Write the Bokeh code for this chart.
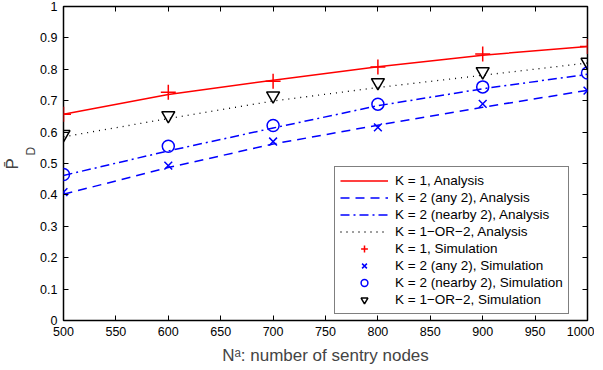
from bokeh.plotting import figure
from bokeh.models import Range1d, FixedTicker, LinearAxis, Title
from bokeh.embed import file_html
from bokeh.resources import INLINE

# ---- data ----
x_nodes = [500, 600, 700, 800, 900, 1000]
k1_analysis = [0.657, 0.720, 0.765, 0.808, 0.845, 0.873]
any2_analysis = [0.402, 0.487, 0.562, 0.622, 0.679, 0.733]
nearby2_analysis = [0.462, 0.540, 0.613, 0.684, 0.738, 0.784]
or12_analysis = [0.585, 0.643, 0.699, 0.742, 0.781, 0.820]
k1_sim = [0.657, 0.727, 0.762, 0.807, 0.849, 0.873]
any2_sim = [0.409, 0.493, 0.570, 0.615, 0.690, 0.732]
nearby2_sim = [0.465, 0.555, 0.621, 0.689, 0.744, 0.788]
or12_sim = [0.593, 0.653, 0.716, 0.758, 0.793, 0.823]

x_ticks = [500, 550, 600, 650, 700, 750, 800, 850, 900, 950, 1000]
y_ticks = [0.0, 0.1, 0.2, 0.3, 0.4, 0.5, 0.6, 0.7, 0.8, 0.9, 1.0]
y_tick_labels = ["0", "0.1", "0.2", "0.3", "0.4", "0.5", "0.6", "0.7", "0.8", "0.9", "1"]

FONT = "Liberation Sans"
RED = "#ff0000"
BLUE = "#0000ff"
BLACK = "#000000"

p = figure(
    output_backend="svg", toolbar_location=None,
    frame_width=524, frame_height=314,
    min_border_left=62, min_border_right=7, min_border_top=6, min_border_bottom=40,
    x_range=Range1d(500, 1000), y_range=Range1d(0, 1),
)
p.background_fill_color = "white"
p.border_fill_color = "white"
p.outline_line_color = BLACK
p.outline_line_width = 1.5
p.xgrid.visible = False
p.ygrid.visible = False

bottom_ax = p.xaxis[0]
left_ax = p.yaxis[0]

def style_axis(ax, ticks, show_labels):
    ax.ticker = FixedTicker(ticks=ticks)
    ax.axis_line_color = None
    ax.major_tick_in = 5
    ax.major_tick_out = 0
    ax.minor_tick_line_color = None
    ax.major_tick_line_color = BLACK
    ax.major_tick_line_width = 1
    ax.major_label_text_font = FONT
    ax.major_label_text_color = BLACK
    ax.major_label_text_font_size = "12.5px"
    if show_labels:
        ax.major_label_standoff = 6
    else:
        ax.major_label_overrides = {t: "" for t in ticks}
        ax.major_label_standoff = 0

style_axis(bottom_ax, x_ticks, True)
style_axis(left_ax, y_ticks, True)
left_ax.major_label_overrides = dict(zip(y_ticks, y_tick_labels))
left_ax.axis_label_standoff = 0

top_ax = LinearAxis()
style_axis(top_ax, x_ticks, False)
p.add_layout(top_ax, "above")
right_ax = LinearAxis()
style_axis(right_ax, y_ticks, False)
p.add_layout(right_ax, "right")

bottom_ax.axis_label = "N\u1d43: number of sentry nodes"
bottom_ax.axis_label_text_font = FONT
bottom_ax.axis_label_text_font_size = "17px"
bottom_ax.axis_label_text_font_style = "normal"
bottom_ax.axis_label_standoff = 7
left_ax.axis_label = None

# y-axis label: P-bar with subscript D, as side titles on the left
p.add_layout(Title(text="D", text_font=FONT, text_font_size="12px", text_font_style="normal",
                   text_line_height=0.8, align="left", offset=165, standoff=0), "left")
p.add_layout(Title(text="P\u0304", text_font=FONT, text_font_size="17px", text_font_style="normal",
                   text_line_height=0.8, align="left", offset=151, standoff=0), "left")

# analysis curves
p.line(x_nodes, k1_analysis, line_color=RED, line_width=1.5, legend_label="K = 1, Analysis")
p.line(x_nodes, any2_analysis, line_color=BLUE, line_width=1.5, line_dash="9 6",
       legend_label="K = 2 (any 2), Analysis")
p.line(x_nodes, nearby2_analysis, line_color=BLUE, line_width=1.5, line_dash="9 4 2 4",
       legend_label="K = 2 (nearby 2), Analysis")
p.line(x_nodes, or12_analysis, line_color=BLACK, line_width=1.3, line_dash="1 5",
       legend_label="K = 1\u2212OR\u22122, Analysis")

# simulation markers
p.scatter(x_nodes, k1_sim, marker="cross", size=15, line_color=RED, line_width=1.5,
          legend_label="K = 1, Simulation")
p.scatter(x_nodes, any2_sim, marker="x", size=11, line_color=BLUE, line_width=1.5,
          legend_label="K = 2 (any 2), Simulation")
p.scatter(x_nodes, nearby2_sim, marker="circle", size=12, line_color=BLUE, fill_color=None,
          line_width=1.5, legend_label="K = 2 (nearby 2), Simulation")
p.scatter(x_nodes, or12_sim, marker="inverted_triangle", size=13, line_color=BLACK,
          fill_color=None, line_width=1.5, legend_label="K = 1\u2212OR\u22122, Simulation")

lg = p.legend[0]
lg.location = (271, 6)
lg.label_text_font = FONT
lg.label_text_font_size = "13.5px"
lg.label_text_color = BLACK
lg.label_height = 17
lg.glyph_height = 17
lg.glyph_width = 48
lg.spacing = 0
lg.padding = 5
lg.margin = 0
lg.label_standoff = 7
lg.border_line_color = BLACK
lg.border_line_width = 1.5
lg.background_fill_color = "white"
lg.background_fill_alpha = 1.0

open("out.html", "w").write(file_html(p, INLINE))
